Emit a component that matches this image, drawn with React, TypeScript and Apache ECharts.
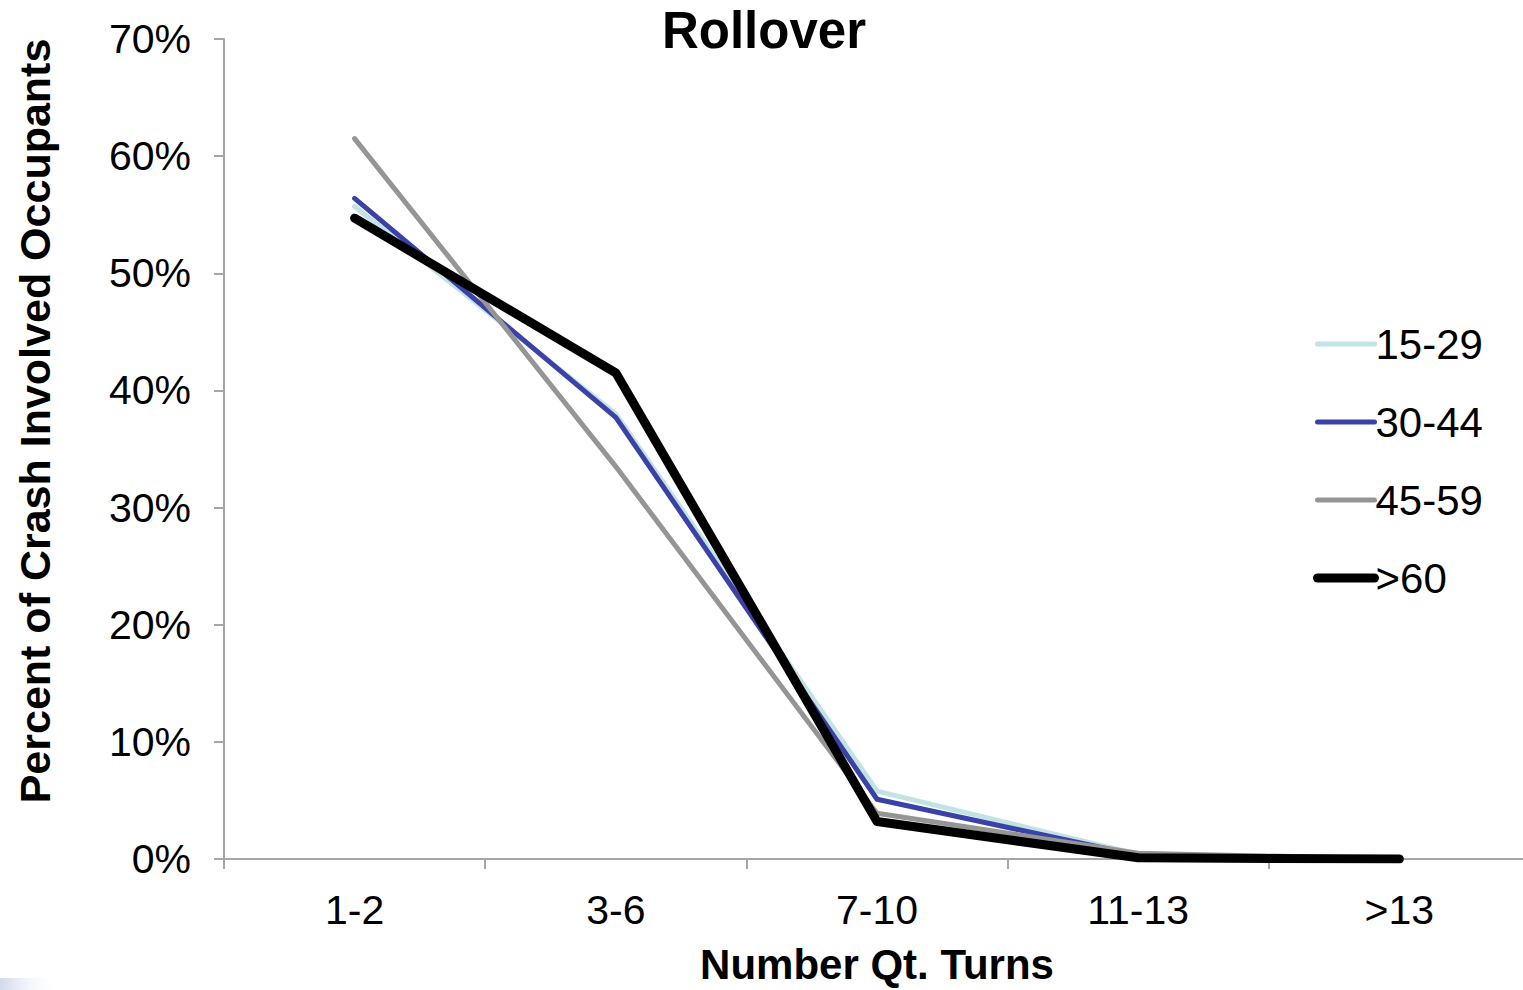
import React, { useEffect, useRef } from "react";
import * as echarts from "echarts";

const categories = ["1-2", "3-6", "7-10", "11-13", ">13"];
const yTicks = [0, 10, 20, 30, 40, 50, 60, 70];

const age15to29 = [55.7, 38.0, 5.8, 0.4, 0.0];
const age30to44 = [56.4, 37.7, 5.1, 0.3, 0.0];
const age45to59 = [61.5, 33.5, 3.9, 0.5, 0.0];
const age60plus = [54.7, 41.5, 3.2, 0.1, 0.0];

const seriesNames = ["15-29", "30-44", "45-59", ">60"];
const seriesColors = ["#c2e3e3", "#3a42a8", "#959595", "#000000"];
const seriesWidths = [5, 5, 5, 9];

const FONT = "'Liberation Sans', Arial, Helvetica, sans-serif";

export default function App() {
  const ref = useRef<HTMLDivElement>(null);

  useEffect(() => {
    if (!ref.current) return;
    const chart = echarts.init(ref.current, undefined, { renderer: "svg" });

    const values = [age15to29, age30to44, age45to59, age60plus];

    chart.setOption({
      animation: false,
      backgroundColor: "#ffffff",
      textStyle: { fontFamily: FONT },
      grid: {
        left: 224,
        top: 39,
        width: 1306,
        height: 820,
        containLabel: false,
        outerBoundsMode: "none",
      },
      legend: {
        orient: "vertical",
        left: 1308,
        top: 318,
        itemWidth: 57,
        itemHeight: 14,
        itemGap: 36,
        itemStyle: { opacity: 0 },
        data: seriesNames.map((name, i) => ({
          name,
          lineStyle: { width: seriesWidths[i], color: seriesColors[i], cap: "round" },
        })),
        textStyle: { fontFamily: FONT, fontSize: 42, color: "#000", padding: [0, 0, 0, -4] },
      },
      xAxis: {
        type: "category",
        data: categories,
        boundaryGap: true,
        name: "Number Qt. Turns",
        nameLocation: "middle",
        nameGap: 84,
        nameTextStyle: { fontFamily: FONT, fontSize: 42, fontWeight: "bold", color: "#000" },
        axisLine: { lineStyle: { color: "#a6a6a6", width: 2 } },
        axisTick: { show: true, length: 10, lineStyle: { color: "#a6a6a6", width: 2 } },
        axisLabel: { fontFamily: FONT, fontSize: 41, color: "#000", margin: 30 },
        splitLine: { show: false },
      },
      yAxis: {
        type: "value",
        min: 0,
        max: 70,
        interval: 10,
        axisLine: { show: true, lineStyle: { color: "#a6a6a6", width: 2 } },
        axisTick: { show: true, length: 10, lineStyle: { color: "#a6a6a6", width: 2 } },
        axisLabel: {
          fontFamily: FONT,
          fontSize: 41,
          color: "#000",
          margin: 33,
          formatter: (v: number) => (yTicks.includes(v) ? `${v}%` : ""),
        },
        splitLine: { show: false },
      },
      graphic: [
        {
          type: "text",
          x: 764,
          y: 30,
          style: {
            text: "Rollover",
            fontFamily: FONT,
            fontSize: 51,
            fontWeight: "bold",
            fill: "#000",
            textAlign: "center",
            textVerticalAlign: "middle",
          },
        },
        {
          type: "text",
          x: 35,
          y: 421,
          rotation: Math.PI / 2,
          style: {
            text: "Percent of Crash Involved Occupants",
            fontFamily: FONT,
            fontSize: 43,
            fontWeight: "bold",
            fill: "#000",
            textAlign: "center",
            textVerticalAlign: "middle",
          },
        },
        {
          type: "rect",
          left: 0,
          top: 978,
          shape: { width: 60, height: 12 },
          style: {
            fill: new echarts.graphic.LinearGradient(0, 0, 1, 0, [
              { offset: 0, color: "rgba(205,212,232,0.9)" },
              { offset: 1, color: "rgba(255,255,255,0)" },
            ]),
          },
          silent: true,
        },
      ],
      series: seriesNames.map((name, i) => ({
        name,
        type: "line",
        data: values[i],
        symbol: "none",
        lineStyle: { color: seriesColors[i], width: seriesWidths[i], cap: "round", join: "round" },
        itemStyle: { color: seriesColors[i] },
      })),
    });

    return () => chart.dispose();
  }, []);

  return (
    <div
      ref={ref}
      style={{ position: "fixed", left: 0, top: 0, width: 1523, height: 990, overflow: "hidden" }}
    />
  );
}
